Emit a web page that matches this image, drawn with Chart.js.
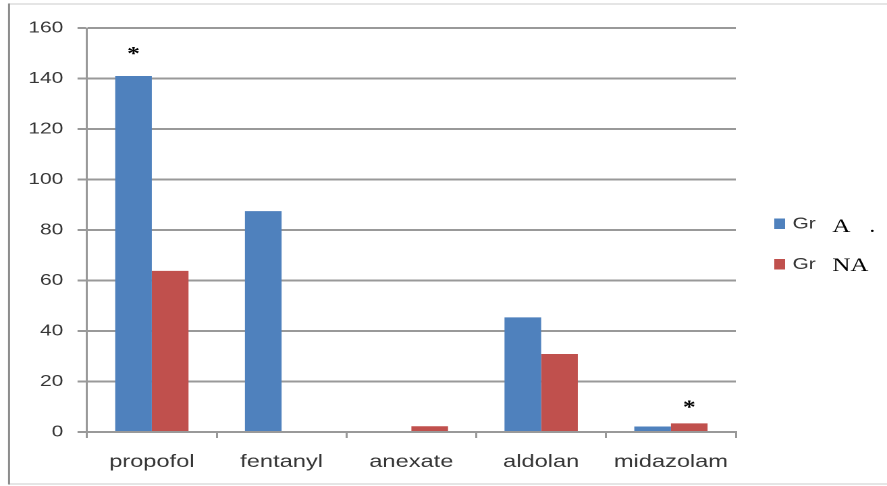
<!DOCTYPE html>
<html>
<head>
<meta charset="utf-8">
<script src="https://cdn.jsdelivr.net/npm/chart.js@4/dist/chart.umd.min.js"></script>
<style>
  html, body { margin: 0; padding: 0; background: #fff; overflow: hidden; }
  /* the chart is laid out on a narrower canvas and widened to the page width */
  #wrap { width: 657px; height: 486px; transform: scaleX(1.3501); transform-origin: 0 0; }
</style>
</head>
<body>
<div id="wrap"><canvas id="c" width="657" height="486"></canvas></div>
<script>
// ---- data ----
const categories = ['propofol', 'fentanyl', 'anexate', 'aldolan', 'midazolam'];
const groupA  = [141, 87.5, 0, 45.4, 2.2];
const groupNA = [63.8, 0, 2.3, 30.9, 3.4];
const yTicks = [0, 20, 40, 60, 80, 100, 120, 140, 160];
const seriesPrefix = ['Gr', 'Gr'];
const seriesTags = ['A   .', 'NA'];
// significance marks: which bar, and the value level the star sits at
const starMarks = [
  { series: 0, index: 0, level: 151 },
  { series: 1, index: 4, level: 11 }
];

const BLUE = '#4F81BD';
const RED = '#C0504D';
const GRID = '#999999';
const TEXT = '#363636';

// outer frame lines around the figure
const framePlugin = {
  id: 'frame',
  beforeDraw(chart) {
    const ctx = chart.ctx;
    ctx.save();
    ctx.lineWidth = 1.5;
    ctx.strokeStyle = '#dcdcdc';
    ctx.beginPath();
    ctx.moveTo(6.7, 4); ctx.lineTo(chart.width, 4);
    ctx.moveTo(6.7, 484); ctx.lineTo(chart.width, 484);
    ctx.stroke();
    ctx.strokeStyle = '#8c8c8c';
    ctx.beginPath();
    ctx.moveTo(6.7, 3.5); ctx.lineTo(6.7, 484.5);
    ctx.stroke();
    ctx.restore();
  }
};

// asterisks over the significant bars
const starPlugin = {
  id: 'stars',
  afterDatasetsDraw(chart) {
    const ctx = chart.ctx;
    const y = chart.scales.y;
    ctx.save();
    ctx.fillStyle = '#000';
    ctx.font = 'bold 19px "Liberation Serif"';
    ctx.textAlign = 'center';
    ctx.textBaseline = 'alphabetic';
    starMarks.forEach(m => {
      const bar = chart.getDatasetMeta(m.series).data[m.index];
      const cy = y.getPixelForValue(m.level);
      ctx.fillText('*', bar.x, cy + 9);
    });
    ctx.restore();
  }
};

// legend on the right: colour box, "Gr" and the serif group tag
const legendPlugin = {
  id: 'sideLegend',
  afterDraw(chart) {
    const ctx = chart.ctx;
    const rows = [
      { box: 218.5, mid: 224.2, base: 232 },
      { box: 259, mid: 264.6, base: 271 }
    ];
    ctx.save();
    chart.data.datasets.forEach((ds, i) => {
      const r = rows[i];
      ctx.fillStyle = ds.backgroundColor;
      ctx.fillRect(573.5, r.box, 8, 10.5);
      ctx.fillStyle = TEXT;
      ctx.font = '15.5px "Liberation Sans"';
      ctx.textAlign = 'left';
      ctx.textBaseline = 'middle';
      ctx.fillText(seriesPrefix[i], 587, r.mid);
      ctx.fillStyle = '#000';
      ctx.font = '18.5px "Liberation Serif"';
      ctx.textBaseline = 'alphabetic';
      ctx.fillText(seriesTags[i], 616.5, r.base);
    });
    ctx.restore();
  }
};

new Chart(document.getElementById('c'), {
  type: 'bar',
  data: {
    labels: categories,
    datasets: [
      { label: seriesPrefix[0] + ' ' + seriesTags[0], data: groupA, backgroundColor: BLUE },
      { label: seriesPrefix[1] + ' ' + seriesTags[1], data: groupNA, backgroundColor: RED }
    ]
  },
  options: {
    responsive: false,
    animation: false,
    devicePixelRatio: 2,
    layout: { padding: { left: 8, top: 28, right: 112, bottom: 0 } },
    datasets: { bar: { categoryPercentage: 0.565, barPercentage: 1.0 } },
    plugins: { legend: { display: false }, tooltip: { enabled: false } },
    scales: {
      x: {
        afterFit(s) { s.height = 54; },
        grid: {
          offset: true,
          drawOnChartArea: false,
          drawTicks: true,
          tickLength: 6,
          color: GRID,
          lineWidth: 1.5
        },
        border: { display: true, color: GRID, width: 2 },
        ticks: {
          color: TEXT,
          font: { family: 'Liberation Sans', size: 17.5 },
          padding: 13.5,
          maxRotation: 0
        }
      },
      y: {
        min: yTicks[0],
        max: yTicks[yTicks.length - 1],
        afterFit(s) { s.width = 56.4; },
        afterBuildTicks(s) { s.ticks = yTicks.map(v => ({ value: v })); },
        grid: {
          color: GRID,
          lineWidth: 2,
          drawTicks: true,
          tickLength: 7
        },
        border: { display: true, color: GRID, width: 1.5 },
        ticks: {
          color: TEXT,
          font: { family: 'Liberation Sans', size: 15.5 },
          padding: 10.5
        }
      }
    }
  },
  plugins: [framePlugin, starPlugin, legendPlugin]
});
</script>
</body>
</html>
